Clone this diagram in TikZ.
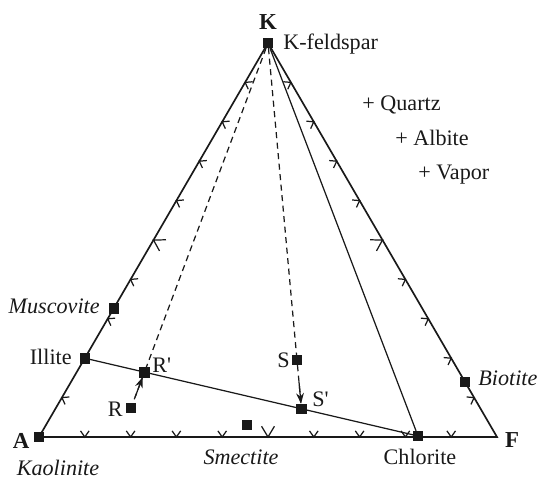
\documentclass[tikz,border=0pt]{standalone}
\usepackage{fontspec}
\setmainfont{Liberation Serif}
\usetikzlibrary{arrows.meta, calc, positioning}

\begin{document}
\begin{tikzpicture}[x=0.02cm, y=-0.02cm, >={Stealth[length=6pt, width=4.4pt]},
    phase/.style={draw=black!90, fill=black!90, minimum size=0.19cm, inner sep=0pt},
    side/.style={line width=0.95pt, black!90},
    tie/.style={line width=0.7pt, black!90},
    proj/.style={tie, dash pattern=on 3.5pt off 2.5pt},
    txt/.style={font=\fontsize{12.6}{15}\selectfont, inner sep=0pt, text=black!90},
    mineral/.style={txt, font=\fontsize{12.6}{15}\selectfont\itshape},
    corner/.style={font=\fontsize{13}{16}\selectfont\bfseries, inner sep=0pt, text=black!90}]

    \useasboundingbox (0,0) rectangle (537,479);

    % vertices of the triangle
    \coordinate (A) at (39,437);
    \coordinate (K) at (268,43);
    \coordinate (F) at (497,437);

    \draw[side] (A) -- (F) -- (K) -- cycle;

    % small marks along the sides, pointing outward
    \foreach \s/\e/\idx in {A/F/{1,2,3,4,6,7,8,9}, F/K/{1,2,3,4,6,7,8,9}, K/A/{1,2,3,4,6,7,9}}
      \foreach \i in \idx {
        \coordinate (p) at ($(\s)!{\i/10}!(\e)$);
        \draw[tie] ($(p)!0.15cm!125:(\e)$) -- (p) -- ($(p)!0.15cm!55:(\e)$);
      }
    % bigger marks at the middle of the sides
    \foreach \s/\e in {A/F, F/K, K/A} {
        \coordinate (p) at ($(\s)!0.5!(\e)$);
        \draw[tie] ($(p)!0.25cm!121:(\e)$) -- (p) -- ($(p)!0.25cm!59:(\e)$);
    }

    % phases
    \node[phase] (kfs) at (K) {};
    \node[phase] (kao) at (A) {};
    \node[phase] (mus) at ($(A)!0.327!(K)$) {};
    \node[phase] (ill) at ($(A)!0.2!(K)$) {};
    \node[phase] (bio) at ($(K)!0.86!(F)$) {};
    \node[phase] (chl) at (418,436) {};
    \node[phase] (sme) at (247,425) {};
    \node[phase] (R) at (131,408) {};
    \node[phase] (S) at (297,360) {};

    % tie lines and projections from K
    \draw[tie] (ill) -- (chl);
    \draw[tie] (kfs) -- (chl);
    \draw[proj] (kfs) -- (R);
    \draw[proj] (kfs) -- (S);

    \node[phase] (Rp) at (intersection of kfs.center--R.center and ill.center--chl.center) {};
    \node[phase] (Sp) at (intersection of kfs.center--S.center and ill.center--chl.center) {};

    \draw[proj] (S) -- (Sp);
    \draw[tie, ->] ($(S)!0.45!(Sp)$) -- (Sp);
    \draw[tie, ->] ($(R)!0.3!(Rp)$) -- (Rp);

    % labels
    \node[corner, anchor=base] (Klbl) at (268,30) {K};
    \node[corner, anchor=base] (Albl) at (21,448) {A};
    \node[corner, anchor=base] (Flbl) at (512,447) {F};
    \node[txt, anchor=base west] (kfslbl) at (283,50) {K-feldspar};
    \node[mineral, anchor=base] (kaolbl) at (58,475) {Kaolinite};
    \node[mineral, anchor=base] (smelbl) at (241,464) {Smectite};
    \node[txt, anchor=base] (chllbl) at (420,464) {Chlorite};
    \node[mineral, anchor=base east] (muslbl) at (100,314) {Muscovite};
    \node[txt, anchor=base east] (illlbl) at (72,364) {Illite};
    \node[mineral, anchor=base west] (biolbl) at (478,385) {Biotite};
    \node[txt, anchor=base east] (Rlbl) at (123,416) {R};
    \node[txt, anchor=base west] (Rplbl) at (152,372) {R\textquotesingle};
    \node[txt, anchor=base east] (Slbl) at (290,367) {S};
    \node[txt, anchor=base west] (Splbl) at (312,406) {S\textquotesingle};

    \node[txt, anchor=base west] (qtz) at (362,111) {+ Quartz};
    \node[txt, anchor=base west] (alb) at (395,146) {+ Albite};
    \node[txt, anchor=base west] (vap) at (418,180) {+ Vapor};
\end{tikzpicture}
\end{document}
